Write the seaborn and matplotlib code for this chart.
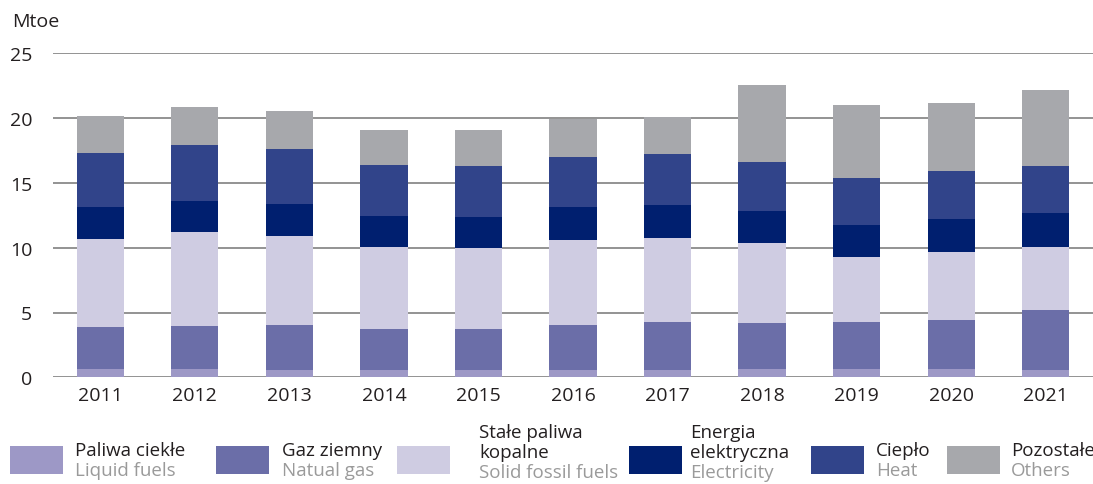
import numpy as np
import pandas as pd
import matplotlib
matplotlib.use("Agg")
import matplotlib.pyplot as plt
import seaborn as sns
from matplotlib.patches import Rectangle

years = ["2011", "2012", "2013", "2014", "2015", "2016", "2017", "2018", "2019", "2020", "2021"]
liquid = [0.64, 0.64, 0.56, 0.56, 0.56, 0.56, 0.56, 0.64, 0.64, 0.64, 0.56]
gas = [3.24, 3.32, 3.48, 3.17, 3.17, 3.48, 3.71, 3.56, 3.63, 3.79, 4.64]
solid = [6.79, 7.24, 6.86, 6.32, 6.25, 6.56, 6.48, 6.16, 5.01, 5.24, 4.85]
electricity = [2.47, 2.40, 2.47, 2.40, 2.39, 2.54, 2.55, 2.47, 2.47, 2.53, 2.63]
heat = [4.16, 4.30, 4.23, 3.95, 3.93, 3.86, 3.93, 3.77, 3.63, 3.73, 3.62]
others = [2.86, 2.95, 2.95, 2.68, 2.78, 2.93, 2.85, 5.96, 5.62, 5.23, 5.87]

series_pl = ["Paliwa ciekłe", "Gaz ziemny", "Stałe paliwa\nkopalne", "Energia\nelektryczna", "Ciepło", "Pozostałe"]
series_en = ["Liquid fuels", "Natual gas", "Solid fossil fuels", "Electricity", "Heat", "Others"]
colors = ["#9d98c6", "#6b6ea8", "#cfcce2", "#001f6f", "#31448a", "#a7a8ac"]
yticks = [0, 5, 10, 15, 20, 25]

sns.set_theme(style="white")
plt.rcParams["font.family"] = ["Open Sans", "DejaVu Sans"]
TXT = "#231f20"

W, H = 1093, 485
fig = plt.figure(figsize=(W / 100, H / 100), dpi=100)
ax = fig.add_axes([53 / W, 1 - 378.3 / H, 1040 / W, (378.3 - 54.3) / H])

data = np.array([liquid, gas, solid, electricity, heat, others])
cum = np.cumsum(data, axis=0)
df = pd.DataFrame({"year": years})
for i in range(len(series_pl)):
    df[f"c{i}"] = cum[i]

for i in reversed(range(len(series_pl))):
    sns.barplot(data=df, x="year", y=f"c{i}", color=colors[i], saturation=1,
                width=0.5, ax=ax, linewidth=0, zorder=3, order=years)

ax.set_xlim(-0.5, 10.5)
ax.set_ylim(0, 25)
ax.set_yticks(yticks)
ax.set_yticklabels([str(t) for t in yticks])
ax.set_xlabel("")
ax.set_ylabel("")
for s in ax.spines.values():
    s.set_visible(False)
ax.set_axisbelow(True)
for t in yticks:
    ax.axhline(t, color="#8a8a8a", lw=1.3, zorder=1)
ax.tick_params(axis="y", length=0, pad=15, labelsize=14, labelcolor=TXT)
ax.tick_params(axis="x", length=0, pad=6, labelsize=14, labelcolor=TXT)

fig.text(12 / W, 1 - 22 / H, "Mtoe", fontsize=14, color=TXT, va="center", ha="left")

# legend
patch_x = [10, 216, 397, 629, 811, 947]
text_x = [75, 282, 479, 690, 876, 1011]
pw, ph = 53, 28
py = 447
for i in range(len(series_pl)):
    fig.patches.append(Rectangle((patch_x[i] / W, 1 - (py + ph) / H), pw / W, ph / H,
                                 transform=fig.transFigure, color=colors[i], lw=0))
    lines_pl = series_pl[i].split("\n")
    n = len(lines_pl) + 1
    lh = 20
    center = 461 if n == 2 else 453
    top = center - lh * n / 2
    for j, ln in enumerate(lines_pl):
        fig.text(text_x[i] / W, 1 - (top + lh * (j + 0.5)) / H, ln, fontsize=13.5,
                 color=TXT, va="center", ha="left")
    fig.text(text_x[i] / W, 1 - (top + lh * (n - 0.5)) / H, series_en[i], fontsize=13.5,
             color="#9a9a9a", va="center", ha="left")

fig.savefig("out.png", dpi=100)
